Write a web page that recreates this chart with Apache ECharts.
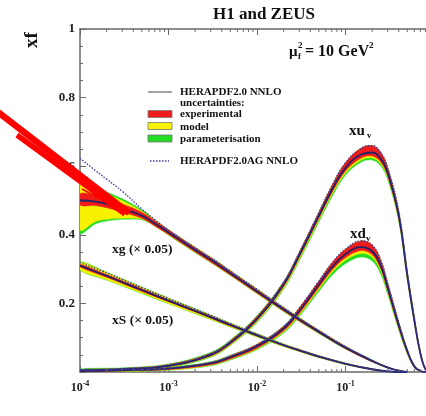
<!DOCTYPE html>
<html>
<head>
<meta charset="utf-8">
<script src="https://cdn.jsdelivr.net/npm/echarts@6/dist/echarts.min.js"></script>
<style>
  html, body { margin: 0; padding: 0; background: #fff; }
  #chart { width: 426px; height: 416px; }
</style>
</head>
<body>
<div id="chart"></div>
<script>
// x grids (log axis)
const xValence = [1e-4, 3e-4, 1e-3, 3e-3, 5e-3, 0.01, 0.02, 0.03, 0.05, 0.07, 0.1, 0.15, 0.2, 0.25, 0.3, 0.4, 0.5, 0.6, 0.7, 0.8, 0.9];
const xGluon = [1e-4, 1.5e-4, 2e-4, 3e-4, 5e-4, 7e-4, 1e-3, 2e-3, 3e-3, 5e-3, 0.01, 0.02, 0.03, 0.05, 0.1, 0.2, 0.3, 0.4, 0.5];
const xSea = [1e-4, 2e-4, 3e-4, 5e-4, 1e-3, 2e-3, 3e-3, 5e-3, 0.01, 0.02, 0.03, 0.05, 0.1, 0.2, 0.3, 0.4, 0.5];

// xu_v : central, band offsets (exp / model / param, cumulative), AG
const xuvCentral = [0.005, 0.008, 0.018, 0.05, 0.085, 0.155, 0.255, 0.34, 0.455, 0.53, 0.595, 0.634, 0.64, 0.622, 0.58, 0.455, 0.28, 0.15, 0.055, 0.008, 0];
const xuvExpUp = [0.002, 0.002, 0.003, 0.004, 0.005, 0.006, 0.007, 0.008, 0.01, 0.012, 0.015, 0.018, 0.02, 0.018, 0.015, 0.012, 0.01, 0.007, 0.004, 0.001, 0];
const xuvExpDn = [0.002, 0.002, 0.002, 0.003, 0.004, 0.005, 0.006, 0.006, 0.007, 0.008, 0.009, 0.01, 0.01, 0.01, 0.009, 0.008, 0.006, 0.004, 0.002, 0.001, 0];
const xuvModUp = [0.002, 0.002, 0.003, 0.004, 0.005, 0.006, 0.007, 0.008, 0.01, 0.012, 0.015, 0.018, 0.02, 0.018, 0.015, 0.012, 0.01, 0.007, 0.004, 0.001, 0];
const xuvModDn = [0.003, 0.003, 0.004, 0.005, 0.006, 0.008, 0.01, 0.011, 0.012, 0.013, 0.015, 0.016, 0.016, 0.015, 0.014, 0.012, 0.009, 0.006, 0.003, 0.001, 0];
const xuvParUp = [0.004, 0.004, 0.005, 0.007, 0.008, 0.009, 0.009, 0.009, 0.01, 0.012, 0.015, 0.018, 0.02, 0.018, 0.015, 0.012, 0.01, 0.007, 0.004, 0.001, 0];
const xuvParDn = [0.004, 0.004, 0.005, 0.007, 0.008, 0.011, 0.014, 0.016, 0.018, 0.02, 0.021, 0.022, 0.022, 0.021, 0.019, 0.016, 0.012, 0.008, 0.004, 0.001, 0];
const xuvAg = [0.007, 0.01, 0.021, 0.054, 0.09, 0.161, 0.262, 0.348, 0.465, 0.542, 0.61, 0.652, 0.66, 0.64, 0.595, 0.467, 0.29, 0.157, 0.059, 0.009, 0];

// xd_v
const xdvCentral = [0.003, 0.005, 0.01, 0.025, 0.043, 0.075, 0.127, 0.178, 0.255, 0.305, 0.343, 0.364, 0.352, 0.31, 0.245, 0.135, 0.06, 0.016, 0.003, 0, 0];
const xdvExpUp = [0.001, 0.002, 0.002, 0.003, 0.004, 0.005, 0.006, 0.008, 0.01, 0.012, 0.015, 0.018, 0.018, 0.016, 0.013, 0.009, 0.005, 0.003, 0.001, 0, 0];
const xdvExpDn = [0.002, 0.002, 0.003, 0.004, 0.005, 0.006, 0.007, 0.008, 0.009, 0.009, 0.01, 0.01, 0.01, 0.009, 0.008, 0.006, 0.004, 0.002, 0.001, 0, 0];
const xdvModUp = [0.001, 0.002, 0.002, 0.003, 0.004, 0.005, 0.006, 0.008, 0.01, 0.012, 0.015, 0.018, 0.018, 0.016, 0.013, 0.009, 0.005, 0.003, 0.001, 0, 0];
const xdvModDn = [0.003, 0.003, 0.004, 0.005, 0.006, 0.008, 0.01, 0.012, 0.014, 0.015, 0.017, 0.018, 0.017, 0.015, 0.013, 0.01, 0.006, 0.003, 0.001, 0, 0];
const xdvParUp = [0.003, 0.004, 0.004, 0.005, 0.006, 0.006, 0.007, 0.008, 0.01, 0.012, 0.015, 0.018, 0.018, 0.016, 0.013, 0.009, 0.005, 0.003, 0.001, 0, 0];
const xdvParDn = [0.004, 0.004, 0.005, 0.007, 0.008, 0.01, 0.013, 0.016, 0.02, 0.024, 0.027, 0.029, 0.028, 0.024, 0.019, 0.013, 0.008, 0.004, 0.001, 0, 0];
const xdvAg = [0.004, 0.007, 0.012, 0.028, 0.047, 0.08, 0.133, 0.186, 0.265, 0.317, 0.358, 0.382, 0.37, 0.326, 0.258, 0.144, 0.065, 0.019, 0.004, 0, 0];

// xg (x 0.05)
const xgCentral = [0.5, 0.497, 0.49, 0.476, 0.456, 0.433, 0.407, 0.356, 0.327, 0.288, 0.235, 0.182, 0.153, 0.117, 0.071, 0.032, 0.013, 0.004, 0];
const xgExpUp = [0.02, 0.018, 0.016, 0.014, 0.01, 0.008, 0.007, 0.006, 0.006, 0.006, 0.005, 0.005, 0.004, 0.004, 0.003, 0.002, 0.001, 0, 0];
const xgExpDn = [0.013, 0.012, 0.011, 0.01, 0.008, 0.007, 0.006, 0.006, 0.006, 0.005, 0.005, 0.004, 0.004, 0.003, 0.003, 0.002, 0.001, 0, 0];
const xgModUp = [0.051, 0.036, 0.029, 0.023, 0.013, 0.009, 0.007, 0.007, 0.007, 0.007, 0.006, 0.006, 0.005, 0.005, 0.004, 0.002, 0.001, 0, 0];
const xgModDn = [0.086, 0.058, 0.045, 0.028, 0.01, 0.007, 0.007, 0.007, 0.007, 0.006, 0.006, 0.005, 0.005, 0.004, 0.003, 0.002, 0.001, 0, 0];
const xgParUp = [0.06, 0.043, 0.035, 0.029, 0.017, 0.011, 0.008, 0.008, 0.008, 0.008, 0.007, 0.007, 0.006, 0.005, 0.004, 0.003, 0.001, 0, 0];
const xgParDn = [0.095, 0.065, 0.05, 0.031, 0.012, 0.008, 0.008, 0.008, 0.008, 0.007, 0.007, 0.006, 0.006, 0.005, 0.004, 0.002, 0.001, 0, 0];
const xgAg = [0.623, 0.587, 0.562, 0.527, 0.475, 0.444, 0.414, 0.362, 0.333, 0.294, 0.241, 0.187, 0.157, 0.121, 0.074, 0.034, 0.014, 0.004, 0];

// xS (x 0.05)
const xsCentral = [0.31, 0.28, 0.262, 0.239, 0.208, 0.178, 0.16, 0.137, 0.107, 0.078, 0.063, 0.045, 0.024, 0.008, 0.002, 0, 0];
const xsExpUp = [0.004, 0.004, 0.004, 0.004, 0.003, 0.003, 0.003, 0.003, 0.002, 0.002, 0.002, 0.002, 0.001, 0.001, 0, 0, 0];
const xsExpDn = [0.004, 0.004, 0.004, 0.004, 0.003, 0.003, 0.003, 0.003, 0.002, 0.002, 0.002, 0.002, 0.001, 0.001, 0, 0, 0];
const xsModUp = [0.011, 0.01, 0.009, 0.008, 0.007, 0.006, 0.005, 0.005, 0.004, 0.003, 0.003, 0.002, 0.002, 0.001, 0, 0, 0];
const xsModDn = [0.012, 0.011, 0.01, 0.009, 0.008, 0.007, 0.006, 0.005, 0.004, 0.003, 0.003, 0.002, 0.002, 0.001, 0, 0, 0];
const xsParUp = [0.012, 0.011, 0.01, 0.009, 0.008, 0.007, 0.006, 0.006, 0.005, 0.004, 0.003, 0.003, 0.002, 0.001, 0, 0, 0];
const xsParDn = [0.013, 0.012, 0.011, 0.01, 0.009, 0.008, 0.007, 0.006, 0.005, 0.004, 0.003, 0.003, 0.002, 0.001, 0, 0, 0];
const xsAg = [0.319, 0.289, 0.27, 0.246, 0.214, 0.183, 0.165, 0.141, 0.11, 0.08, 0.065, 0.046, 0.025, 0.008, 0.002, 0, 0];

// minor ticks of the log x axis
const xMinorTicks = [2e-4, 3e-4, 4e-4, 5e-4, 6e-4, 7e-4, 8e-4, 9e-4,
  2e-3, 3e-3, 4e-3, 5e-3, 6e-3, 7e-3, 8e-3, 9e-3,
  0.02, 0.03, 0.04, 0.05, 0.06, 0.07, 0.08, 0.09,
  0.2, 0.3, 0.4, 0.5, 0.6, 0.7, 0.8, 0.9];

const SERIF = '"Liberation Serif", "Times New Roman", serif';
const RED = '#ee1c1c', YELLOW = '#f6f200', GREEN = '#22dd22';
const LINE = '#222266', AG = '#3c3ca0';

function band(xs, c, dn, up, color) {
  const rows = xs.map((x, i) => [x, c[i] - dn[i], c[i] + up[i]]);
  return {
    type: 'custom', silent: true, clip: true, z: 2,
    data: rows,
    encode: { x: 0, y: [1, 2] },
    renderItem: (params, api) => {
      if (params.dataIndex !== 0) return null;
      const top = rows.map(r => api.coord([r[0], r[2]]));
      const bot = rows.map(r => api.coord([r[0], r[1]])).reverse();
      return {
        type: 'polygon',
        shape: { points: top.concat(bot), smooth: 0.35 },
        style: { fill: color, stroke: color, lineWidth: 0.5 }
      };
    }
  };
}

function curve(xs, ys, style) {
  return {
    type: 'line', silent: true, z: 4,
    data: xs.map((x, i) => [x, ys[i]]),
    smooth: 0.45,
    showSymbol: false,
    lineStyle: style
  };
}

const pdfs = [
  [xValence, xuvCentral, xuvExpUp, xuvExpDn, xuvModUp, xuvModDn, xuvParUp, xuvParDn, xuvAg],
  [xValence, xdvCentral, xdvExpUp, xdvExpDn, xdvModUp, xdvModDn, xdvParUp, xdvParDn, xdvAg],
  [xGluon, xgCentral, xgExpUp, xgExpDn, xgModUp, xgModDn, xgParUp, xgParDn, xgAg],
  [xSea, xsCentral, xsExpUp, xsExpDn, xsModUp, xsModDn, xsParUp, xsParDn, xsAg]
];

const series = [];
pdfs.forEach(p => {
  series.push(band(p[0], p[1], p[7], p[6], GREEN));
  series.push(band(p[0], p[1], p[5], p[4], YELLOW));
  series.push(band(p[0], p[1], p[3], p[2], RED));
});
pdfs.forEach(p => series.push(curve(p[0], p[1], { color: LINE, width: 1.8 })));
pdfs.forEach(p => series.push(curve(p[0], p[8], { color: AG, width: 1.4, type: [1.5, 1.5] })));

// minor ticks on bottom and top frame
series.push({
  type: 'custom', silent: true, z: 6,
  data: xMinorTicks.map(v => [v, 0]),
  encode: { x: 0, y: 1 },
  renderItem: (params, api) => {
    const b = api.coord([api.value(0), 0]);
    const t = api.coord([api.value(0), 1]);
    const st = { stroke: '#6a6a6a', lineWidth: 1 };
    return {
      type: 'group',
      children: [
        { type: 'line', shape: { x1: b[0], y1: b[1], x2: b[0], y2: b[1] - 3 }, style: st },
        { type: 'line', shape: { x1: t[0], y1: t[1], x2: t[0], y2: t[1] + 3 }, style: st }
      ]
    };
  }
});

const axisLine = { show: true, lineStyle: { color: '#6a6a6a', width: 1.5 } };

const option = {
  animation: false,
  backgroundColor: '#fff',
  grid: { left: 80, top: 29, width: 354, height: 343, outerBoundsMode: 'none', containLabel: false },
  xAxis: [
    {
      type: 'log', logBase: 10, min: 1e-4, max: 1,
      axisLine,
      axisTick: { show: true, inside: true, length: 6, lineStyle: { color: '#6a6a6a' } },
      splitLine: { show: false },
      axisLabel: {
        show: true, margin: 8, showMaxLabel: false,
        formatter: v => '{b|10}{s|' + Math.round(Math.log10(v)) + '}',
        rich: {
          b: { fontFamily: SERIF, fontWeight: 'bold', fontSize: 12, color: '#222', lineHeight: 16 },
          s: { fontFamily: SERIF, fontWeight: 'bold', fontSize: 8, color: '#222', verticalAlign: 'top', lineHeight: 10 }
        }
      }
    },
    {
      type: 'log', logBase: 10, min: 1e-4, max: 1, position: 'top',
      axisLine,
      axisTick: { show: true, inside: true, length: 6, lineStyle: { color: '#6a6a6a' } },
      splitLine: { show: false },
      axisLabel: { show: false }
    }
  ],
  yAxis: {
    type: 'value', min: 0, max: 1, interval: 0.2,
    axisLine,
    axisTick: { show: true, inside: true, length: 6, lineStyle: { color: '#6a6a6a' } },
    minorTick: { show: true, splitNumber: 4, length: 3, lineStyle: { color: '#6a6a6a' } },
    splitLine: { show: false },
    axisLabel: {
      margin: 5,
      fontFamily: SERIF, fontWeight: 'bold', fontSize: 13, color: '#222',
      formatter: v => (v === 0 ? '' : String(+v.toFixed(1)))
    }
  },
  series: series
};

const txt = (x, y, text, size, extra) => Object.assign({
  type: 'text', x, y, z: 20,
  style: Object.assign({
    text, font: 'bold ' + size + 'px ' + SERIF, fill: '#111',
    textAlign: 'left', textVerticalAlign: 'middle'
  }, extra || {})
});

const graphics = [
  txt(264, 15, 'H1 and ZEUS', 17, { textAlign: 'center' }),
  Object.assign(txt(32, 40, 'xf', 19, { textAlign: 'center' }), { rotation: Math.PI / 2 }),
  // mu_f^2 = 10 GeV^2
  txt(289, 52, 'μ', 15),
  txt(298, 46, '2', 9),
  txt(298, 57, 'f', 9),
  txt(305, 52, '= 10 GeV', 16),
  txt(369, 46, '2', 9),
  // legend
  { type: 'line', z: 20, shape: { x1: 148, y1: 92, x2: 172, y2: 92 }, style: { stroke: '#888', lineWidth: 1.5 } },
  txt(180, 92, 'HERAPDF2.0 NNLO', 11),
  txt(180, 103, 'uncertainties:', 11),
  { type: 'rect', z: 20, shape: { x: 148, y: 110.5, width: 24, height: 7 }, style: { fill: RED, stroke: '#777', lineWidth: 0.8 } },
  txt(180, 114.5, 'experimental', 11),
  { type: 'rect', z: 20, shape: { x: 148, y: 122.5, width: 24, height: 7 }, style: { fill: YELLOW, stroke: '#777', lineWidth: 0.8 } },
  txt(180, 127, 'model', 11),
  { type: 'rect', z: 20, shape: { x: 148, y: 135, width: 24, height: 7 }, style: { fill: GREEN, stroke: '#777', lineWidth: 0.8 } },
  txt(180, 139, 'parameterisation', 11),
  { type: 'line', z: 20, shape: { x1: 150, y1: 161, x2: 169, y2: 161 }, style: { stroke: AG, lineWidth: 1.4, lineDash: [1.5, 1.5] } },
  txt(180, 161.5, 'HERAPDF2.0AG NNLO', 11),
  // curve labels
  txt(349, 131, 'xu', 15),
  txt(367, 136, 'v', 9),
  txt(350, 234, 'xd', 15),
  txt(366, 239, 'v', 9),
  txt(112, 250, 'xg (× 0.05)', 13.5),
  txt(112, 321, 'xS (× 0.05)', 13.5),
  // red annotation arrow
  { type: 'line', z: 30, shape: { x1: -2, y1: 112, x2: 129, y2: 213 }, style: { stroke: '#ff0000', lineWidth: 6.5 } },
  { type: 'line', z: 30, shape: { x1: 17, y1: 135, x2: 125, y2: 214 }, style: { stroke: '#ff0000', lineWidth: 5.5 } },
  { type: 'line', z: 30, shape: { x1: 82, y1: 189, x2: 128, y2: 214 }, style: { stroke: '#ff0000', lineWidth: 1.5 } }
];
option.graphic = graphics;

const chart = echarts.init(document.getElementById('chart'), null, { renderer: 'canvas' });
chart.setOption(option);
</script>
</body>
</html>
